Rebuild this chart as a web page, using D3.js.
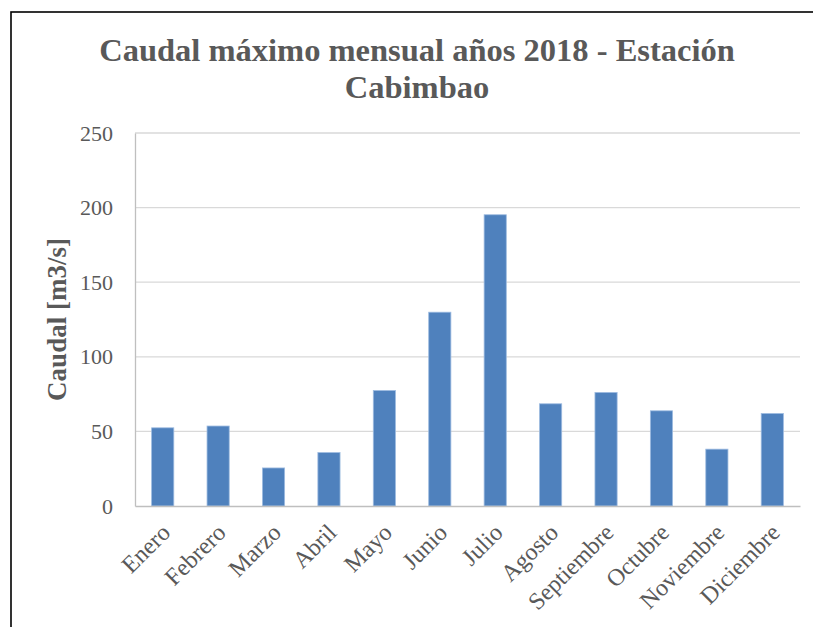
<!DOCTYPE html>
<html>
<head>
<meta charset="utf-8">
<script src="https://cdn.jsdelivr.net/npm/d3@7"></script>
<style>
  html, body { margin: 0; padding: 0; background: #fff; }
  svg { display: block; }
</style>
</head>
<body>
<svg id="chart" width="813" height="627"></svg>
<script>
// Monthly maximum discharge, 2018
const months = ["Enero", "Febrero", "Marzo", "Abril", "Mayo", "Junio", "Julio",
                "Agosto", "Septiembre", "Octubre", "Noviembre", "Diciembre"];
const caudal = [52.4, 53.6, 25.5, 35.8, 77.4, 129.9, 195.2, 68.5, 76.1, 63.8, 38.1, 62.0];
const yTicks = [0, 50, 100, 150, 200, 250];
const titleLines = ["Caudal máximo mensual años 2018 - Estación", "Cabimbao"];
const yTitle = "Caudal [m3/s]";

const data = months.map((m, i) => ({ month: m, value: caudal[i] }));

const svg = d3.select("#chart");
const textColor = "#595959";
const serif = "'Liberation Serif', 'Times New Roman', serif";

const plot = { left: 135, right: 800, top: 133, bottom: 506 };

// Outer frame
svg.append("rect")
  .attr("x", 11).attr("y", 12)
  .attr("width", 900).attr("height", 900)
  .attr("fill", "none").attr("stroke", "#000").attr("stroke-width", 1.6);

const x = d3.scaleBand()
  .domain(months)
  .range([plot.left, plot.right])
  .paddingInner(0.6)
  .paddingOuter(0.3);

const y = d3.scaleLinear()
  .domain([0, 250])
  .range([plot.bottom, plot.top]);

// Horizontal gridlines
svg.append("g")
  .selectAll("line")
  .data(yTicks.filter(d => d > 0))
  .join("line")
  .attr("x1", plot.left).attr("x2", plot.right)
  .attr("y1", d => y(d)).attr("y2", d => y(d))
  .attr("stroke", "#D9D9D9").attr("stroke-width", 1.3);

// Y axis (labels only, with a light axis line)
const yAxis = svg.append("g")
  .attr("transform", `translate(${plot.left},0)`)
  .call(d3.axisLeft(y).tickValues(yTicks).tickSize(0).tickPadding(22));
yAxis.select(".domain").attr("stroke", "#BFBFBF").attr("stroke-width", 1.3);
yAxis.selectAll("text")
  .attr("fill", textColor)
  .style("font-family", serif)
  .style("font-size", "22px");

// Bars
svg.append("g")
  .selectAll("rect")
  .data(data)
  .join("rect")
  .attr("x", d => x(d.month))
  .attr("y", d => y(d.value))
  .attr("width", x.bandwidth())
  .attr("height", d => y(0) - y(d.value))
  .attr("fill", "#4F81BD")
  .attr("stroke", "#9DBBE0")
  .attr("stroke-width", 0.8);

// X axis baseline and rotated month labels
const xAxis = svg.append("g")
  .attr("transform", `translate(0,${plot.bottom})`)
  .call(d3.axisBottom(x).tickSize(0).tickPadding(0));
xAxis.select(".domain").attr("stroke", "#BFBFBF").attr("stroke-width", 1.3);
xAxis.selectAll("text")
  .attr("fill", textColor)
  .style("font-family", serif)
  .style("font-size", "24px")
  .attr("text-anchor", "end")
  .attr("dy", null)
  .attr("y", 0)
  .attr("transform", "translate(9,28) rotate(-45)");

// Title
svg.append("text")
  .attr("x", 417)
  .attr("text-anchor", "middle")
  .attr("fill", textColor)
  .style("font-family", serif)
  .style("font-weight", "bold")
  .style("font-size", "32.5px")
  .selectAll("tspan")
  .data(titleLines)
  .join("tspan")
  .attr("x", 417)
  .attr("y", (d, i) => 61 + i * 37)
  .text(d => d);

// Y axis title
svg.append("text")
  .attr("transform", `translate(66,${(plot.top + plot.bottom) / 2}) rotate(-90)`)
  .attr("text-anchor", "middle")
  .attr("fill", textColor)
  .style("font-family", serif)
  .style("font-weight", "bold")
  .style("font-size", "27px")
  .text(yTitle);
</script>
</body>
</html>
